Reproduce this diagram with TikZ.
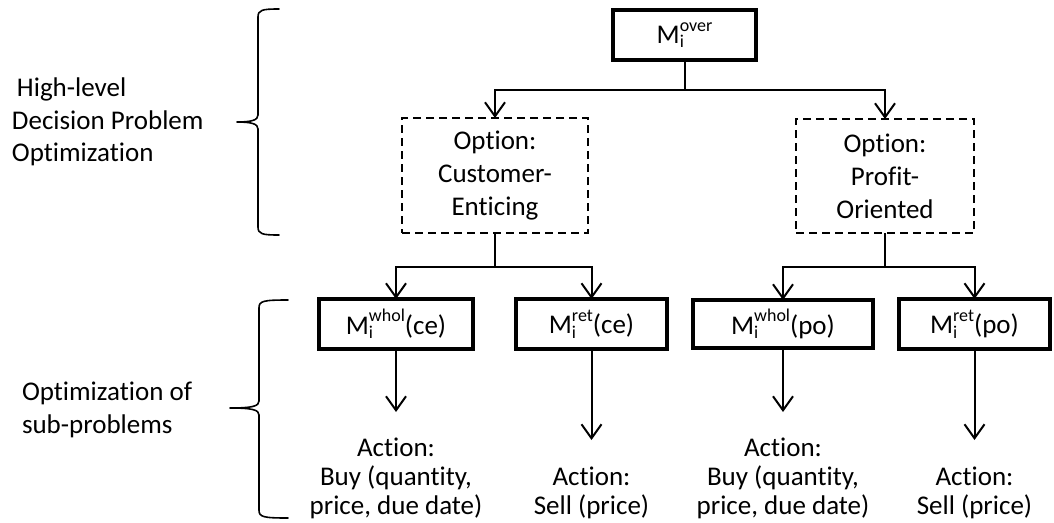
\documentclass[tikz,border=0pt]{standalone}
\usepackage{fontspec}
\setmainfont{Carlito}[Ligatures=NoCommon]
\usetikzlibrary{arrows.meta}

% M with subscript i and a superscript tag, then an optional suffix
\newcommand\Mlab[2]{M\rlap{\raisebox{-0.16em}{\fontsize{18}{18}\selectfont i}}\raisebox{0.46em}{\fontsize{18}{18}\selectfont #1}#2}

% curly bracket: top end x, spine x, tip x, top y, tip y, bottom y
\newcommand\curlybrack[6]{%
  \draw[bracket] (#1,#4) .. controls (#2+4,#4) and (#2,#4+1) .. (#2,#4+8)
    -- (#2,#5-7) .. controls (#2,#5-2) and (#2-6,#5) .. (#3,#5)
    .. controls (#2-6,#5) and (#2,#5+2) .. (#2,#5+7)
    -- (#2,#6-8) .. controls (#2,#6-1) and (#2+4,#6) .. (#1,#6);}

\begin{document}
\begin{tikzpicture}[x=1pt,y=-1pt,
  every node/.style={outer sep=0pt},
  txt/.style={font=\fontsize{27}{32.5}\selectfont, align=center, inner sep=0pt},
  modelbox/.style={draw, line width=4pt, font=\fontsize{27}{32.5}\selectfont,
    minimum height=50pt, inner sep=0pt},
  optbox/.style={draw, line width=2pt, dash pattern=on 8pt off 5pt,
    font=\fontsize{27}{33}\selectfont, align=center, inner sep=0pt},
  actiontxt/.style={font=\fontsize{27}{29}\selectfont, align=center,
    inner sep=0pt, anchor=north},
  link/.style={line width=2pt},
  arr/.style={line width=2pt, -{Straight Barb[length=14pt,width=20pt]}},
  bracket/.style={line width=1.6pt, line cap=round, line join=round},
]
\useasboundingbox[fill=white] (0,0) rectangle (1054,522);

% top-level model
\node[modelbox, minimum width=143pt] (over) at (684.5,35) {\Mlab{over}{}};

% high-level options
\node[optbox, minimum width=186pt, minimum height=115pt] (ce) at (495,175.5)
  {Option:\\Customer-\\Enticing};
\node[optbox, minimum width=178pt, minimum height=114pt] (po) at (885,176)
  {Option:\\Profit-\\Oriented};

% sub-problem models
\node[modelbox, minimum width=154pt] (wce) at (396,324) {\Mlab{whol}{(ce)}};
\node[modelbox, minimum width=151pt] (rce) at (591.5,324) {\Mlab{ret}{(ce)}};
\node[modelbox, minimum width=180pt, minimum height=48pt] (wpo) at (783,324) {\Mlab{whol}{(po)}};
\node[modelbox, minimum width=151pt] (rpo) at (974.5,324) {\Mlab{ret}{(po)}};

% actions
\node[actiontxt] (awce) at (396,438) {Action:\\Buy (quantity,\\price, due date)};
\node[actiontxt] (arce) at (591.5,467) {Action:\\Sell (price)};
\node[actiontxt] (awpo) at (783,438) {Action:\\Buy (quantity,\\price, due date)};
\node[actiontxt] (arpo) at (974.5,467) {Action:\\Sell (price)};

% branch points
\coordinate (j1) at (684.5,90);
\coordinate (j2) at (495,267);
\coordinate (j3) at (885,267);

\draw[link] (over.south) -- (j1);
\draw[arr] (j1) -| (ce.north);
\draw[arr] (j1) -| (po.north);

\draw[link] (ce.south) -- (j2);
\draw[arr] (j2) -| (wce.north);
\draw[arr] (j2) -| (rce.north);

\draw[link] (po.south) -- (j3);
\draw[arr] (j3) -| (wpo.north);
\draw[arr] (j3) -| (rpo.north);

% each action arrow stops a little above its text
\draw[arr] (wce.south) -- ([yshift=26pt]awce.north);
\draw[arr] (rce.south) -- ([yshift=27pt]arce.north);
\draw[arr] (wpo.south) -- ([yshift=26pt]awpo.north);
\draw[arr] (rpo.south) -- ([yshift=27pt]arpo.north);

% level labels and brackets
\node[txt, align=left, anchor=west] (lvlhigh) at (12,122)
  {\hspace{5pt}High-level\\Decision Problem\\Optimization};
\node[txt, align=left, anchor=west] (lvlsub) at (22,410)
  {Optimization of\\sub-problems};

\curlybrack{279}{258}{237}{9}{122}{235}
\curlybrack{288}{259}{230}{300}{408}{518}
\end{tikzpicture}
\end{document}
